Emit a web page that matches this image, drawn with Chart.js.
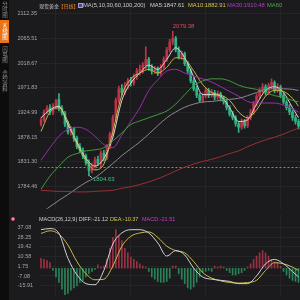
<!DOCTYPE html>
<html>
<head>
<meta charset="utf-8">
<script src="https://cdn.jsdelivr.net/npm/chart.js@4.4.0/dist/chart.umd.min.js"></script>
<style>
  html, body { margin: 0; padding: 0; width: 300px; height: 300px; overflow: hidden; background: #1b1b1d; font-family: "Liberation Sans", Arial, sans-serif; }
  canvas { position: absolute; left: 0; }
  #kline { top: 0; }
  #macd { top: 212px; }
  #side { position: absolute; left: 0; top: 0; width: 9px; height: 300px; background: #0c0c0d; }
  .tab { position: absolute; left: 0; width: 9px; writing-mode: vertical-rl; text-orientation: upright; font-family: "Noto Sans CJK SC", sans-serif; font-size: 5.5px; line-height: 9px; color: #8c8c8c; text-align: center; }
  .tab.on { background: #e8741a; color: #fff; }
  .txt span { position: absolute; white-space: nowrap; font-size: 5.8px; line-height: 7px; }
  .cjk { font-family: "Noto Sans CJK SC", sans-serif; font-size: 5px !important; }
  .ico { width: 3px; height: 3px; border: 1px solid #a89ce0; background: #514a80; }
  #dot { position: absolute; left: 11px; top: 216.5px; width: 2px; height: 2px; border: 1px solid #e0506a; border-radius: 50%; background: #f3a0b0; }
</style>
</head>
<body>
<canvas id="kline" width="300" height="212"></canvas>
<canvas id="macd" width="300" height="88"></canvas>

<div id="side">
  <div class="tab" style="top:0;height:19px">分时图</div>
  <div class="tab on" style="top:20px;height:23px">K线图</div>
  <div class="tab" style="top:45px;height:19px">闪电图</div>
  <div class="tab" style="top:67px;height:27px">合约资料</div>
</div>

<div class="txt">
  <span class="cjk" style="left:39px;top:2px;color:#c9c9c9">现货黄金</span>
  <span class="cjk" style="left:58.5px;top:2px;color:#e8822a">【日线】</span>
  <span class="ico" style="left:78px;top:2.5px"></span>
  <span style="left:83px;top:2px;color:#c9c9c9">MA(5,10,30,60,100,200)</span>
  <span style="left:150px;top:2px;color:#d0d0d0">MA5:1847.61</span>
  <span style="left:188px;top:2px;color:#d4c44c">MA10:1882.91</span>
  <span style="left:227px;top:2px;color:#b23cc4">MA30:1910.48</span>
  <span style="left:267px;top:2px;color:#48a848">MA60</span>

  <span style="left:39px;top:216px;font-size:5.5px;color:#cfcfcf">MACD(26,12,9) DIFF:-21.12</span>
  <span style="left:110px;top:216px;font-size:5.5px;color:#d4c44c">DEA:-10.37</span>
  <span style="left:142px;top:216px;font-size:5.5px;color:#c040c8">MACD:-21.51</span>
</div>
<div id="dot"></div>

<script>
// daily candles (price)
var opens = [1903, 1911, 1926, 1934, 1925, 1936, 1950, 1932, 1924, 1903,
  1887, 1894, 1876, 1860, 1853, 1842, 1829, 1814, 1824, 1836,
  1827, 1848, 1838, 1860, 1884, 1915, 1948, 1971, 1963, 1976,
  1986, 1981, 1993, 2003, 2007, 2014, 2026, 2011, 2004, 2008,
  2000, 2011, 2026, 2044, 2059, 2066, 2044, 2031, 2037, 2018,
  2004, 1985, 1970, 1958, 1948, 1956, 1967, 1958, 1963, 1954,
  1961, 1952, 1945, 1934, 1922, 1915, 1904, 1897, 1908, 1900,
  1915, 1926, 1941, 1956, 1967, 1974, 1963, 1976, 1982, 1967,
  1974, 1958, 1945, 1934, 1926, 1915, 1908];
var highs = [1915, 1930, 1938, 1940, 1942, 1950, 1961, 1938, 1927, 1908,
  1898, 1897, 1880, 1866, 1858, 1846, 1835, 1829, 1840, 1842,
  1852, 1853, 1864, 1888, 1920, 1953, 1975, 1978, 1982, 1990,
  1992, 1998, 2009, 2015, 2020, 2050, 2030, 2016, 2013, 2012,
  2016, 2031, 2049, 2064, 2079.38, 2070, 2050, 2042, 2040, 2022,
  2008, 1990, 1975, 1962, 1962, 1972, 1971, 1969, 1967, 1966,
  1964, 1956, 1949, 1938, 1927, 1919, 1908, 1913, 1912, 1919,
  1931, 1946, 1961, 1972, 1980, 1978, 1981, 1989, 1985, 1980,
  1977, 1962, 1949, 1940, 1930, 1920, 1912];
var lows = [1899, 1908, 1922, 1921, 1921, 1931, 1928, 1920, 1898, 1884,
  1882, 1870, 1856, 1848, 1837, 1825, 1804.63, 1810, 1819, 1824,
  1822, 1833, 1835, 1856, 1880, 1910, 1943, 1958, 1959, 1970,
  1975, 1977, 1988, 1996, 2000, 2008, 2005, 1998, 1999, 1995,
  1996, 2008, 2022, 2040, 2054, 2040, 2027, 2026, 2014, 2000,
  1981, 1966, 1953, 1944, 1944, 1952, 1953, 1954, 1949, 1950,
  1947, 1941, 1930, 1918, 1911, 1899, 1887, 1893, 1895, 1896,
  1911, 1922, 1937, 1952, 1962, 1958, 1959, 1970, 1962, 1963,
  1953, 1941, 1930, 1921, 1910, 1903, 1894];
var closes = [1911, 1926, 1933, 1926, 1937, 1947, 1932, 1924, 1903, 1888,
  1894, 1875, 1860, 1853, 1842, 1829, 1815, 1824, 1835, 1828,
  1848, 1838, 1860, 1884, 1915, 1948, 1970, 1963, 1976, 1985,
  1981, 1993, 2004, 2007, 2015, 2026, 2011, 2004, 2007, 2000,
  2011, 2026, 2044, 2059, 2066, 2044, 2031, 2037, 2018, 2004,
  1985, 1970, 1958, 1948, 1956, 1967, 1958, 1963, 1954, 1961,
  1952, 1945, 1934, 1922, 1915, 1904, 1897, 1908, 1900, 1915,
  1926, 1941, 1956, 1967, 1974, 1963, 1976, 1982, 1967, 1974,
  1958, 1945, 1934, 1926, 1915, 1908, 1899];

// moving averages / macd lines, read at these candle indexes
var maAt = [0, 3, 6, 9, 12, 15, 18, 21, 24, 27, 30, 33, 36, 39, 42, 45, 48, 51, 54, 57, 60, 63, 66, 69, 72, 75, 78, 81, 84, 86];
var ma5 = [1915, 1930, 1937, 1902, 1869, 1838, 1823, 1838, 1878, 1948, 1981, 2000, 2015, 2007, 2026, 2048, 2029, 1993, 1959, 1959, 1956, 1934, 1908, 1911, 1941, 1967, 1974, 1963, 1934, 1915];
var ma10 = [1889, 1926, 1934, 1908, 1865, 1834, 1816, 1827, 1889, 1958, 1989, 2000, 2007, 2000, 2011, 2029, 2026, 2004, 1978, 1963, 1958, 1948, 1926, 1915, 1930, 1956, 1967, 1965, 1952, 1937];
var ma30 = [1834, 1858, 1880, 1893, 1897, 1893, 1880, 1864, 1858, 1882, 1908, 1934, 1967, 1987, 2004, 2007, 2000, 1994, 1989, 1983, 1974, 1965, 1956, 1946, 1943, 1943, 1943, 1939, 1932, 1926];
var ma60 = [1779, 1804, 1823, 1840, 1847, 1852, 1854, 1858, 1871, 1886, 1902, 1909, 1915, 1921, 1928, 1941, 1959, 1976, 1985, 1989, 1989, 1985, 1977, 1972, 1969, 1963, 1957, 1954, 1948, 1945];
var ma100 = [1734, 1746, 1758, 1769, 1781, 1792, 1801, 1814, 1828, 1843, 1856, 1869, 1884, 1900, 1915, 1926, 1935, 1941, 1945, 1946, 1948, 1950, 1952, 1957, 1963, 1969, 1970, 1970, 1969, 1967];
var ma200 = [1777, 1776, 1775, 1775, 1774, 1774, 1775, 1776, 1777, 1781, 1784, 1788, 1793, 1799, 1806, 1814, 1821, 1827, 1832, 1836, 1841, 1847, 1852, 1860, 1867, 1873, 1878, 1884, 1891, 1895];
var diff = [35, 36, 31.6, 9, -6, -14, -15, -2, 22, 32, 35, 35, 32, 23, 11, 16, 12, 0, -8, -10, -11, -12, -14, -14, -7, 4, 8, 4, -3, -8];
var dea = [31.6, 34, 31, 21, 6, -5, -10.5, -10, 2, 20, 29, 32, 33, 28, 20, 16, 14, 6, -4, -9, -11.5, -13, -13.5, -13, -11, -2, 5, 4, 1, -2];
var macdHist = [9, 8, 7, 5, -2, -8, -13, -19, -24, -23,
  -20, -18, -16, -13, -11, -8, -5, -3, -1, 3,
  1, 2, 8, 18, 28, 35, 30, 25, 18, 14,
  10, 8, 6, 4, 2, 1, -3, -8, -10, -12,
  -13, -13, -12, -9, 2, 2, -5, -10, -14, -18,
  -19, -17, -13, -8, -4, -3, -2, -3, 2, 1,
  2, 1, -2, -4, -6, -6, -5, -4, -2, 1,
  4, 8, 11, 14, 16, 14, 11, 8, 6, 5,
  2, -3, -6, -9, -11, -12, -13];

var priceTicks = [2112.35, 2065.51, 2018.67, 1971.83, 1924.99, 1878.15, 1831.30, 1784.46];
var macdTicks = [37.08, 28.25, 19.42, 10.58, 1.75, -7.08, -15.91];
var lastPrice = 1821;
var gridAt = [5, 30, 55, 80];

var upColor = '#bc3447';
var downColor = '#2fb383';
var gridColor = '#252527';

Chart.defaults.font.family = '"Liberation Sans", Arial, sans-serif';

var labels = closes.map(function (c, i) { return String(i + 1); });
var candleColor = closes.map(function (c, i) { return c >= opens[i] ? upColor : downColor; });

function sparse(vals) {
  return labels.map(function (l, i) {
    var k = maAt.indexOf(i);
    return k < 0 ? null : vals[k];
  });
}

function line(label, vals, color) {
  return {
    type: 'line',
    label: label,
    data: sparse(vals),
    borderColor: color,
    borderWidth: 1,
    pointRadius: 0,
    spanGaps: true,
    cubicInterpolationMode: 'monotone',
    order: 0
  };
}

function xAxis() {
  return {
    grid: {
      offset: false,
      drawTicks: false,
      color: function (c) { return gridAt.indexOf(c.index) >= 0 ? gridColor : 'transparent'; }
    },
    ticks: { display: false },
    border: { display: false },
    afterFit: function (a) { a.height = 0; }
  };
}

function yAxis(min, max, ticks) {
  return {
    min: min,
    max: max,
    afterFit: function (a) { a.width = 22; },
    afterBuildTicks: function (a) { a.ticks = ticks.map(function (v) { return { value: v }; }); },
    ticks: {
      crossAlign: 'far',
      padding: 0,
      autoSkip: false,
      color: '#a6a6a6',
      font: { size: 5.5 },
      callback: function (v) { return v.toFixed(2); }
    },
    grid: { color: gridColor, drawTicks: false },
    border: { display: false }
  };
}

// dashed last-price line + max / min price labels
var markers = {
  id: 'markers',
  beforeDatasetsDraw: function (chart) {
    var ctx = chart.ctx, area = chart.chartArea;
    var py = Math.round(chart.scales.y.getPixelForValue(lastPrice)) + 0.5;
    ctx.save();
    ctx.strokeStyle = '#b5812c';
    ctx.lineWidth = 1;
    ctx.setLineDash([2, 2]);
    ctx.beginPath();
    ctx.moveTo(area.left, py);
    ctx.lineTo(area.right, py);
    ctx.stroke();
    ctx.restore();
  },
  afterDatasetsDraw: function (chart) {
    var ctx = chart.ctx, x = chart.scales.x, y = chart.scales.y;
    var hi = Math.max.apply(null, highs), lo = Math.min.apply(null, lows);
    var hx = x.getPixelForValue(highs.indexOf(hi)), hy = y.getPixelForValue(hi);
    var lx = x.getPixelForValue(lows.indexOf(lo)), ly = y.getPixelForValue(lo);
    ctx.save();
    ctx.font = '6px "Liberation Sans"';
    ctx.textAlign = 'left';
    ctx.textBaseline = 'bottom';
    ctx.fillStyle = '#e3485c';
    ctx.fillText(hi.toFixed(2), hx, hy - 2);
    ctx.strokeStyle = '#dddddd';
    ctx.lineWidth = 1;
    ctx.beginPath();
    ctx.moveTo(lx + 1, ly);
    ctx.lineTo(lx + 3, ly + 2);
    ctx.stroke();
    ctx.textBaseline = 'middle';
    ctx.fillStyle = '#39c08e';
    ctx.fillText(lo.toFixed(2), lx + 4, ly + 4);
    ctx.restore();
  }
};

new Chart(document.getElementById('kline'), {
  type: 'bar',
  data: {
    labels: labels,
    datasets: [
      {
        label: 'wick',
        data: lows.map(function (l, i) { return [l, highs[i]]; }),
        backgroundColor: candleColor,
        barThickness: 1,
        grouped: false,
        order: 2
      },
      {
        label: 'body',
        data: opens.map(function (o, i) { return [o, closes[i]]; }),
        backgroundColor: candleColor,
        barThickness: 2,
        grouped: false,
        order: 1
      },
      line('MA200', ma200, '#9c2f33'),
      line('MA100', ma100, '#8a8a8c'),
      line('MA60', ma60, '#3f9c3f'),
      line('MA30', ma30, '#9a2eb0'),
      line('MA10', ma10, '#c9b94a'),
      line('MA5', ma5, '#d9d9d9')
    ]
  },
  options: {
    responsive: false,
    animation: false,
    devicePixelRatio: 1,
    layout: { padding: { left: 17.5, right: 0, top: 0, bottom: 0 } },
    plugins: { legend: { display: false }, tooltip: { enabled: false } },
    scales: {
      x: xAxis(),
      y: yAxis(1742.09, 2132.61, priceTicks)
    }
  },
  plugins: [markers]
});

new Chart(document.getElementById('macd'), {
  type: 'bar',
  data: {
    labels: labels,
    datasets: [
      {
        label: 'MACD',
        data: macdHist,
        backgroundColor: macdHist.map(function (v) { return v >= 0 ? '#9a3044' : '#2a8259'; }),
        barThickness: 1,
        order: 1
      },
      line('DIFF', diff, '#d2d2d8'),
      line('DEA', dea, '#c9bb48')
    ]
  },
  options: {
    responsive: false,
    animation: false,
    devicePixelRatio: 1,
    layout: { padding: { left: 17.5, right: 0, top: 0, bottom: 0 } },
    plugins: { legend: { display: false }, tooltip: { enabled: false } },
    scales: {
      x: xAxis(),
      y: yAxis(-25.89, 48.07, macdTicks)
    }
  }
});
</script>
</body>
</html>
